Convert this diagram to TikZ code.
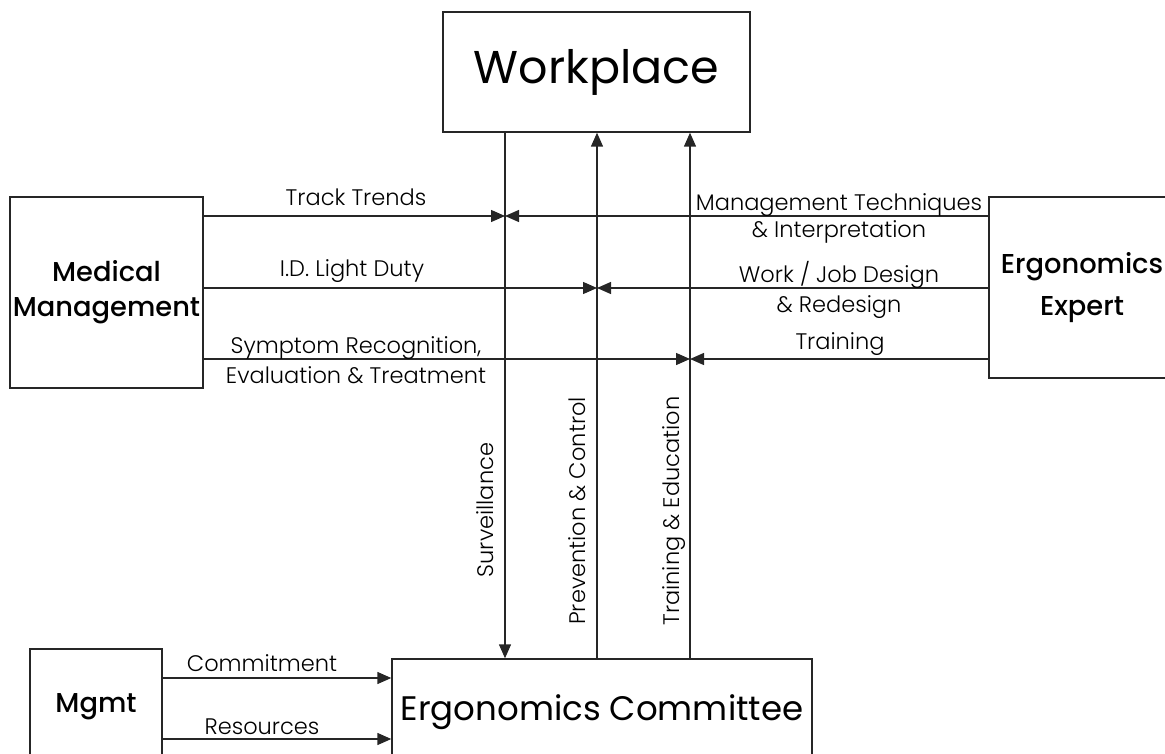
\documentclass[tikz,border=0pt]{standalone}
\usepackage{fontspec}
\setmainfont{Poppins}
\newfontfamily\lightfont{Poppins Light}
\newfontfamily\medfont{Poppins Medium}
\usetikzlibrary{arrows.meta}
\begin{document}
\begin{tikzpicture}[x=1pt,y=-1pt,
  box/.style={draw=black!85, line width=1.4pt, inner sep=0pt, align=center},
  lbl/.style={inner sep=0pt, align=center, font=\lightfont\fontsize{22.5}{27}\selectfont},
  lbltwo/.style={lbl, font=\lightfont\fontsize{22.5}{30}\selectfont},
  arr/.style={line width=1.4pt, draw=black!85, -{Triangle[length=14pt,width=12pt]}}
]
\useasboundingbox (0,0) rectangle (1165,754);
\clip (0,0) rectangle (1165,754);
% boxes
\node[box, minimum width=307pt, minimum height=120pt, font=\fontsize{46}{50}\selectfont] (work) at (596.5,72) {Workplace};
\node[box, minimum width=193pt, minimum height=191pt, font=\medfont\fontsize{27.3}{35}\selectfont] (med) at (106.5,292.5) {Medical\\Management};
\node[box, minimum width=186pt, minimum height=181pt, font=\medfont\fontsize{27.3}{42}\selectfont] (exp) at (1082,287.5) {Ergonomics\\Expert};
\node[box, minimum width=132pt, minimum height=116pt, font=\medfont\fontsize{27.3}{35}\selectfont] (mgmt) at (96,707) {Mgmt};
\node[box, minimum width=420pt, minimum height=106pt, font=\fontsize{34}{40}\selectfont] (comm) at (602,712) {Ergonomics Committee};
% coordinates of the three vertical lines and the horizontal rows
\coordinate (sv) at (505,0);
\coordinate (pc) at (597,0);
\coordinate (te) at (690,0);
\coordinate (r1) at (0,216);
\coordinate (r2) at (0,288);
\coordinate (r3) at (0,359);
\coordinate (c1) at (0,678);
\coordinate (c2) at (0,739);
% vertical connectors
\draw[arr] (work.south -| sv) -- (comm.north -| sv);
\draw[arr] (comm.north -| pc) -- (work.south -| pc);
\draw[arr] (comm.north -| te) -- (work.south -| te);
% horizontal connectors
\draw[arr] (med.east |- r1) -- (sv |- r1);
\draw[arr] (exp.west |- r1) -- (sv |- r1);
\draw[arr] (med.east |- r2) -- (pc |- r2);
\draw[arr] (exp.west |- r2) -- (pc |- r2);
\draw[arr] (med.east |- r3) -- (te |- r3);
\draw[arr] (exp.west |- r3) -- (te |- r3);
\draw[arr] (mgmt.east |- c1) -- (comm.west |- c1);
\draw[arr] (mgmt.east |- c2) -- (comm.west |- c2);
% labels
\node[lbl] (ltt) at (356,197) {Track Trends};
\node[lbl] (lid) at (352,271) {I.D. Light Duty};
\node[lbltwo] (lsr) at (356,360) {Symptom Recognition,\\Evaluation \& Treatment};
\node[lbl] (lmt) at (839,218) {Management Techniques\\\& Interpretation};
\node[lbltwo] (lwj) at (839,290) {Work / Job Design\\\& Redesign};
\node[lbl] (ltr) at (840,344) {Training};
\node[lbl] (lco) at (262,663) {Commitment};
\node[lbl] (lre) at (262,727) {Resources};
\node[lbl, rotate=90] (lsu) at (485,510) {Surveillance};
\node[lbl, rotate=90] (lpc) at (577,511) {Prevention \& Control};
\node[lbl, rotate=90] (lte) at (674,511) {Training \& Education};
\end{tikzpicture}
\end{document}
